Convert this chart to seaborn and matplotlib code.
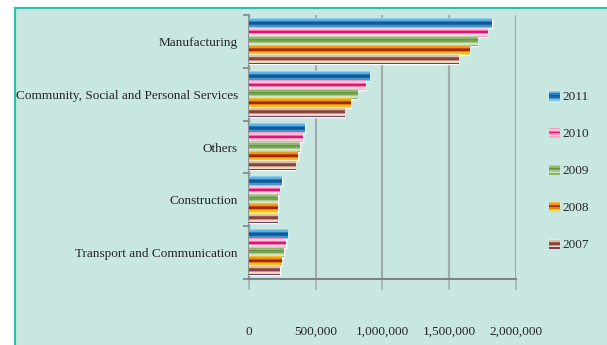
import numpy as np
import pandas as pd
import matplotlib
matplotlib.use('Agg')
import matplotlib.pyplot as plt
from matplotlib.patches import Rectangle
from matplotlib.legend_handler import HandlerBase
from matplotlib.colors import to_rgb
import seaborn as sns

sectors = ['Manufacturing', 'Community, Social and Personal Services', 'Others',
           'Construction', 'Transport and Communication']
years = ['2011', '2010', '2009', '2008', '2007']
v2011 = [1820000, 899000, 419000, 247000, 285000]
v2010 = [1783000, 869000, 404000, 225000, 277000]
v2009 = [1708000, 809000, 382000, 217000, 262000]
v2008 = [1648000, 764000, 367000, 217000, 247000]
v2007 = [1566000, 712000, 345000, 210000, 232000]
xticks = [0, 500000, 1000000, 1500000, 2000000]
xtick_labels = ['0', '500,000', '1,000,000', '1,500,000', '2,000,000']

# striped "gradient" fill of each series, top to bottom
stripes = {
    '2011': ['#8fd0f3', '#5fb1e2', '#2a7dbd', '#0f5a94', '#1b68a3', '#3f95d0', '#7cc4ec'],
    '2010': ['#f59dc0', '#f9c2d6', '#ef6ea6', '#e0137a', '#f28db7', '#fbd6dc', '#f3a9c6'],
    '2009': ['#b9d3a2', '#8fb870', '#66953e', '#77a352', '#a9c98c', '#d3e4c2', '#8ab36a'],
    '2008': ['#f8c234', '#ee9a18', '#c04a0a', '#a22806', '#e4850f', '#f5bd22', '#f8e040'],
    '2007': ['#f6ebcc', '#dcc0a4', '#9c5e52', '#874442', '#c49a82', '#ecd9c0', '#773b66'],
}
mid = {y: stripes[y][3] for y in years}

values = {'2011': v2011, '2010': v2010, '2009': v2009, '2008': v2008, '2007': v2007}
df = pd.DataFrame([(s, y, values[y][i]) for y in years for i, s in enumerate(sectors)],
                  columns=['sector', 'year', 'value'])

sns.set_style('white')
plt.rcParams['font.family'] = ['Liberation Serif', 'DejaVu Serif']

mint = '#c9e7e1'
teal = '#2dbfa9'
grid_c = '#a4abaa'
fig = plt.figure(figsize=(6.07, 3.45), dpi=100, facecolor='white')
fig.patches.append(Rectangle((15 / 607, -0.1), 1.2, 1.1 - 8 / 345,
                             transform=fig.transFigure, facecolor=mint,
                             edgecolor=teal, lw=1.6, zorder=-10))

ax = fig.add_axes([249 / 607, 1 - 279 / 345, 267 / 607, 264 / 345])
ax.set_facecolor('none')

sns.barplot(data=df, y='sector', x='value', hue='year', order=sectors,
            hue_order=years, orient='h', width=0.86, palette=mid,
            saturation=1, legend=False, ax=ax, zorder=3)

for cont, yr in zip(ax.containers, years):
    img = np.array([to_rgb(c) for c in stripes[yr]])[:, None, :]
    for bar in cont:
        x0, y0 = bar.get_x(), bar.get_y()
        w, h = bar.get_width(), bar.get_height()
        ax.imshow(img, extent=(x0, x0 + w, y0 + h, y0), aspect='auto',
                  interpolation='nearest', zorder=4)

ax.set_xlim(0, 2000000)
ax.set_ylim(len(sectors) - 0.5, -0.5)
ax.set_xticks(xticks)
ax.set_xticklabels(xtick_labels)
ax.set_yticks(range(len(sectors)))
ax.set_yticklabels(sectors)
ax.set_yticks(np.arange(-0.5, len(sectors)), minor=True)
ax.set_xlabel('')
ax.set_ylabel('')

ax.tick_params(axis='y', which='major', length=0, pad=8, labelsize=9.5)
ax.tick_params(axis='y', which='minor', left=True, length=4.5, width=1.2,
               color='#7d8584', direction='out')
ax.tick_params(axis='x', which='major', bottom=True, length=8, width=1.1,
               color=grid_c, direction='out', pad=26, labelsize=9.5)
ax.xaxis.grid(True, color=grid_c, lw=1.6, zorder=0)
ax.set_axisbelow(True)
for s in ['top', 'right']:
    ax.spines[s].set_visible(False)
ax.spines['left'].set_color('#8d9594')
ax.spines['left'].set_linewidth(1.5)
ax.spines['bottom'].set_color('#7d8584')
ax.spines['bottom'].set_linewidth(1.5)


class StripeHandler(HandlerBase):
    def create_artists(self, legend, orig_handle, xdescent, ydescent, width,
                       height, fontsize, trans):
        cols = stripes[orig_handle]
        n = len(cols)
        arts = []
        for k, c in enumerate(cols):
            arts.append(Rectangle((-xdescent, -ydescent + height * (n - 1 - k) / n),
                                  width, height / n, facecolor=c, lw=0,
                                  transform=trans))
        return arts


fig.legend(years, years, handler_map={y: StripeHandler() for y in years},
           loc='center left', bbox_to_anchor=(549 / 607, 1 - 171 / 345),
           frameon=False, fontsize=9.5, borderpad=0, borderaxespad=0,
           handlelength=0.8, handleheight=0.8, handletextpad=0.25,
           labelspacing=1.85)

fig.savefig('out.png', dpi=100, facecolor='white')
